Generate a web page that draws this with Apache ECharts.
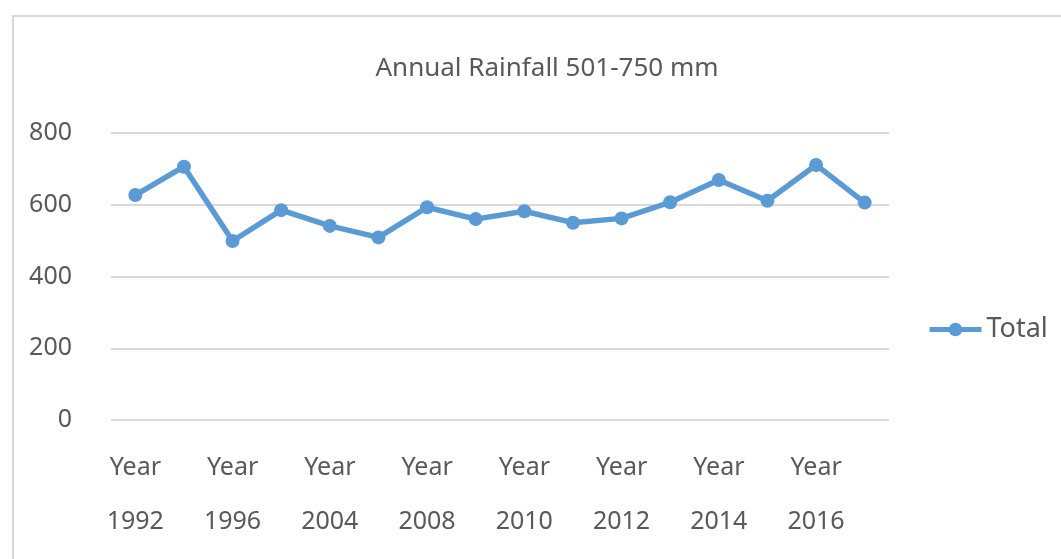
<!DOCTYPE html>
<html>
<head>
<meta charset="utf-8">
<script src="https://cdn.jsdelivr.net/npm/echarts@6/dist/echarts.min.js"></script>
<style>
html,body{margin:0;padding:0;background:#fff;}
#chart{width:1061px;height:559px;}
</style>
</head>
<body>
<div id="chart"></div>
<script>
const categories = ['Year 1992','Year 1994','Year 1996','Year 2002','Year 2004','Year 2006','Year 2008','Year 2009','Year 2010','Year 2011','Year 2012','Year 2013','Year 2014','Year 2015','Year 2016','Year 2017'];
const totalValues = [627, 706, 499, 585, 541, 509, 593, 560, 582, 550, 562, 607, 669, 611, 711, 606];
const yTicks = [0, 200, 400, 600, 800];
const seriesName = 'Total';
const titleText = 'Annual Rainfall 501-750 mm';

const FONT = '"Noto Sans", "Open Sans", sans-serif';
const TXT = '#595959';
const BLUE = '#5B9BD5';

const chart = echarts.init(document.getElementById('chart'));
chart.setOption({
  animation: false,
  backgroundColor: '#ffffff',
  graphic: [{
    type: 'rect',
    shape: { x: 13, y: 16, width: 1100, height: 600 },
    style: { fill: 'none', stroke: '#d9d9d9', lineWidth: 2 },
    silent: true
  }],
  title: {
    text: titleText,
    left: 542, top: 64, textAlign: 'center', textVerticalAlign: 'middle',
    textStyle: { fontFamily: FONT, fontSize: 26, fontWeight: 'normal', color: TXT }
  },
  legend: {
    data: [seriesName],
    left: 927, top: 316, orient: 'vertical',
    itemWidth: 52, itemHeight: 17,
    lineStyle: { color: BLUE, width: 5 },
    itemStyle: { color: BLUE },
    textStyle: { fontFamily: FONT, fontSize: 27, color: TXT, verticalAlign: 'middle' },
    padding: 0
  },
  grid: { left: 111, right: 172, top: 133, bottom: 139, containLabel: false },
  xAxis: {
    type: 'category',
    data: categories,
    boundaryGap: true,
    axisLine: { show: false },
    axisTick: { show: false },
    axisLabel: {
      interval: 1,
      margin: 21,
      fontFamily: FONT, fontSize: 25, color: TXT,
      lineHeight: 54,
      formatter: v => v.replace(' ', '\n')
    }
  },
  yAxis: {
    type: 'value',
    min: yTicks[0], max: yTicks[yTicks.length - 1], interval: 200,
    axisLine: { show: false },
    axisTick: { show: false },
    axisLabel: { margin: 39, fontFamily: FONT, fontSize: 25, color: TXT },
    splitLine: { lineStyle: { color: '#d9d9d9', width: 2 } }
  },
  series: [{
    name: seriesName,
    type: 'line',
    data: totalValues,
    symbol: 'circle',
    symbolSize: 14,
    lineStyle: { color: BLUE, width: 5.5 },
    itemStyle: { color: BLUE }
  }]
});
</script>
</body>
</html>
